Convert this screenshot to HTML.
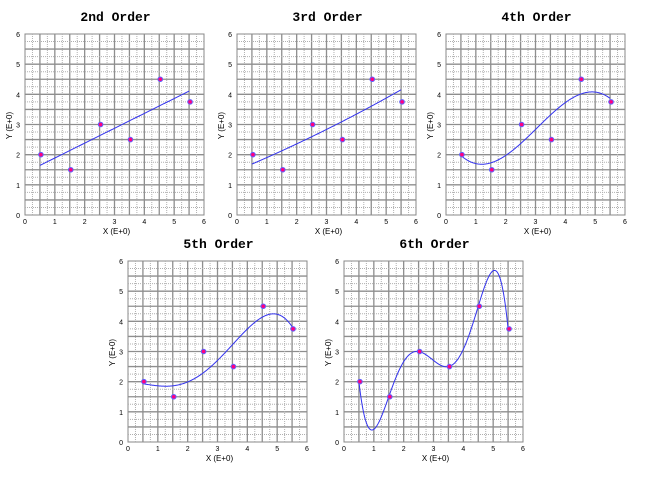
<!DOCTYPE html>
<html><head><meta charset="utf-8"><style>
body{margin:0;background:#fff;width:648px;height:481px;overflow:hidden}
svg{display:block}
</style></head><body>
<svg id="c" width="648" height="481" xmlns="http://www.w3.org/2000/svg"></svg>
<script>
const xs = [0.5, 1.5, 2.5, 3.5, 4.5, 5.5];
const ys = [2, 1.5, 3, 2.5, 4.5, 3.75];
const orders = [2, 3, 4, 5, 6];
const titles = ["2nd Order", "3rd Order", "4th Order", "5th Order", "6th Order"];
const ticks = [0, 1, 2, 3, 4, 5, 6];
const panels = [
  {x: 25, y: 34}, {x: 237, y: 34}, {x: 446, y: 34},
  {x: 128, y: 261}, {x: 344, y: 261}
];
const W = 179, H = 181;
const NS = "http://www.w3.org/2000/svg";
const svg = document.getElementById('c');
function mk(tag, attrs, parent) {
  const e = document.createElementNS(NS, tag);
  for (const k in attrs) e.setAttribute(k, attrs[k]);
  (parent || svg).appendChild(e);
  return e;
}
function fit(deg) {
  const n = deg + 1;
  const A = [];
  for (let i = 0; i < n; i++) {
    A.push([]);
    for (let j = 0; j <= n; j++) A[i].push(0);
  }
  for (let k = 0; k < xs.length; k++) {
    for (let i = 0; i < n; i++) {
      for (let j = 0; j < n; j++) A[i][j] += Math.pow(xs[k], i + j);
      A[i][n] += ys[k] * Math.pow(xs[k], i);
    }
  }
  for (let i = 0; i < n; i++) {
    let p = i;
    for (let r = i + 1; r < n; r++) if (Math.abs(A[r][i]) > Math.abs(A[p][i])) p = r;
    [A[i], A[p]] = [A[p], A[i]];
    for (let r = 0; r < n; r++) {
      if (r === i) continue;
      const f = A[r][i] / A[i][i];
      for (let c = i; c <= n; c++) A[r][c] -= f * A[i][c];
    }
  }
  return A.map((row, i) => row[n] / A[i][i]);
}
panels.forEach((p, idx) => {
  const g = mk('g', {});
  
  
  const sx = v => p.x + v / 6 * W;
  const sy = v => p.y + H - v / 6 * H;
  const t = mk('text', {x: p.x + W / 2 + 1, y: p.y - 13, 'text-anchor': 'middle', 'font-family': 'Liberation Mono, monospace', 'font-weight': 'bold', 'font-size': 13, fill: '#000'}, g);
  t.textContent = titles[idx];
  
  
  mk('rect', {x: p.x, y: p.y, width: W, height: H, fill: '#fff', stroke: '#888'}, g);
  for (let v = 0.25; v < 6; v += 0.25) {
    const major = Math.abs(v * 2 - Math.round(v * 2)) < 1e-6;
    const st = major ? {stroke: '#8e8e8e', 'stroke-width': 1.3} : {stroke: '#b0b0b0', 'stroke-width': 1, 'stroke-dasharray': '1,1'};
    mk('line', Object.assign({x1: sx(v), x2: sx(v), y1: p.y, y2: p.y + H}, st), g);
    mk('line', Object.assign({x1: p.x, x2: p.x + W, y1: sy(v), y2: sy(v)}, st), g);
  }
  ticks.forEach(v => {
    const a = mk('text', {x: sx(v), y: p.y + H + 9, 'text-anchor': 'middle', 'font-family': 'Liberation Sans, sans-serif', 'font-size': 7, fill: '#000'}, g);
    a.textContent = v;
    
    
    const b = mk('text', {x: p.x - 5, y: sy(v) + 3, 'text-anchor': 'end', 'font-family': 'Liberation Sans, sans-serif', 'font-size': 7, fill: '#000'}, g);
    b.textContent = v;
    
    
  });
  const xl = mk('text', {x: p.x + W / 2 + 2, y: p.y + H + 19, 'text-anchor': 'middle', 'font-family': 'Liberation Sans, sans-serif', 'font-size': 8, fill: '#000'}, g);
  xl.textContent = 'X (E+0)';
  
  
  const cy = p.y + H / 2 + 1, cx = p.x - 13;
  const yl = mk('text', {x: cx, y: cy, 'text-anchor': 'middle', transform: 'rotate(-90 ' + cx + ' ' + cy + ')', 'font-family': 'Liberation Sans, sans-serif', 'font-size': 8, fill: '#000'}, g);
  yl.textContent = 'Y (E+0)';
  
  
  const coef = fit(orders[idx] - 1);
  let d = '';
  for (let i = 0; i <= 200; i++) {
    const x = xs[0] + (xs[xs.length - 1] - xs[0]) * i / 200;
    let y = 0;
    coef.forEach((c, k) => y += c * Math.pow(x, k));
    d += (i ? 'L' : 'M') + sx(x).toFixed(2) + ' ' + sy(y).toFixed(2);
  }
  const path = mk('path', {d: d, fill: 'none', stroke: '#3333ee', 'stroke-width': 1}, g);
  
  
  xs.forEach((x, i) => {
    const c = mk('circle', {cx: sx(x) + 1, cy: sy(ys[i]), r: 2.3, fill: '#ff0080', stroke: '#6060ff', 'stroke-width': 1}, g);
    
    
  });
});
</script>
</body></html>
